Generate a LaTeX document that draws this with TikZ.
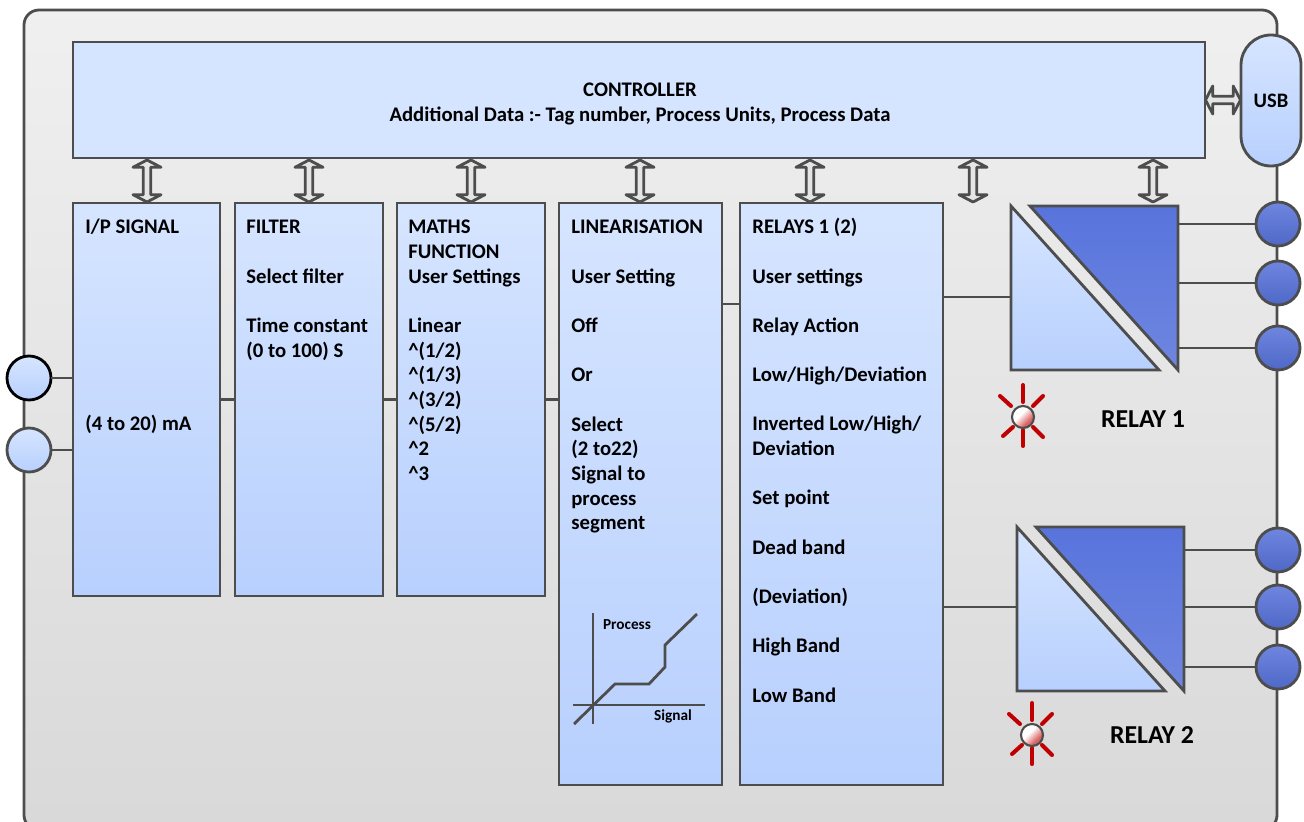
\documentclass[tikz,border=0pt]{standalone}
\usepackage{fontspec}
\setmainfont{Carlito}
\usepackage{xcolor}
\usetikzlibrary{shapes.arrows}
\newcommand{\px}{0.02cm}
\newcommand{\gapline}{\\[14.03pt]}
\newcommand{\pw}{\textasciicircum}
\definecolor{edgegray}{HTML}{4D4D4D}
\definecolor{boxtop}{HTML}{D6E5FF}
\definecolor{boxbot}{HTML}{B8D0FE}
\definecolor{darktop}{HTML}{5874DC}
\definecolor{darkbot}{HTML}{6F86E0}
\definecolor{ledred}{HTML}{C00000}
\pgfdeclarehorizontalshading{ledshade}{100bp}{color(0bp)=(white);color(42bp)=(white);color(66bp)=(ledred!62);color(100bp)=(ledred!62)}
\tikzset{
  wire/.style={draw=edgegray,line width=1.6pt},
  blockbox/.style={wire,top color=boxtop,bottom color=boxbot,inner sep=0pt,outer sep=0pt},
  blocktext/.style={anchor=north west,inner sep=0pt,align=left,font=\fontsize{11.8}{14.03}\selectfont\bfseries,execute at begin node=\strut},
  smalltext/.style={inner sep=0pt,font=\fontsize{8.7}{10}\selectfont\bfseries},
  relaytext/.style={inner sep=0pt,font=\fontsize{14.7}{16}\selectfont\bfseries},
  terminal/.style={circle,wire,minimum size=44*\px,inner sep=0pt,outer sep=0pt},
  updown/.style={double arrow,wire,fill=black!10,rotate=90,minimum height=42*\px,minimum width=28*\px,line join=round,
    inner sep=2*\px,double arrow head extend=9.5*\px,double arrow tip angle=125,outer sep=0pt},
}
\begin{document}
\begin{tikzpicture}[x=\px,y=-\px]
  \clip (0,0) rectangle (1304,821);
  \shade[wire,top color=black!6,bottom color=black!15,rounded corners=0.3cm] (24,10) rectangle (1277,830);

  % controller and usb
  \node[wire,fill=boxtop,minimum width=1132*\px,minimum height=116*\px,inner sep=0pt,outer sep=0pt] (controller) at (639,100) {};
  \node[blocktext,anchor=center,align=center] (controllertext) at (640,106) {CONTROLLER\\Additional Data :- Tag number, Process Units, Process Data};
  \node[blockbox,minimum width=60*\px,minimum height=131*\px,rounded corners=0.6cm,font=\fontsize{11.7}{13}\selectfont\bfseries] (usb) at (1271,100.5) {USB};
  \node[updown,rotate=-90,minimum height=35*\px] (usblink) at (1223,100) {};

  % blocks
  \node[blockbox,minimum width=147*\px,minimum height=393*\px] (ipsignal) at (146.5,399.5) {};
  \node[blockbox,minimum width=148*\px,minimum height=393*\px] (filter) at (309,399.5) {};
  \node[blockbox,minimum width=148*\px,minimum height=393*\px] (maths) at (471,399.5) {};
  \node[blockbox,minimum width=163*\px,minimum height=582*\px] (linear) at (640.5,494) {};
  \node[blockbox,minimum width=203*\px,minimum height=582*\px] (relays) at (841.5,494) {};
  \draw[wire] (ipsignal.east) -- (filter.west);
  \draw[wire] (filter.east) -- (maths.west);
  \draw[wire] (maths.east) -- (linear.west |- maths.east);
  \coordinate (linout) at (722,304);
  \draw[wire] (linout) -- (linout -| relays.west);

  \foreach \name/\x in {a/147,b/309,c/471,d/640,e/810,f/973,g/1153}
    \node[updown] (arrow\name) at (\x,181) {};

  \node[blocktext] (iptext) at (85,216) {I/P SIGNAL};
  \node[blocktext] (ipvalue) at (85,413) {(4 to 20) mA};
  \node[blocktext] (filtertext) at (246,220) {FILTER\gapline Select filter\gapline Time constant\\(0 to 100) S};
  \node[blocktext] (mathstext) at (408,220) {MATHS\\FUNCTION\\User Settings\gapline Linear\\\pw(1/2)\\\pw(1/3)\\\pw(3/2)\\\pw(5/2)\\\pw2\\\pw3};
  \node[blocktext] (lineartext) at (571,220) {LINEARISATION\gapline User Setting\gapline Off\gapline Or\gapline Select\\(2 to22)\\Signal to\\process\\segment};
  \node[blocktext] (relaystext) at (752,218) {RELAYS 1 (2)\gapline User settings\gapline Relay Action\gapline Low/High/Deviation\gapline Inverted Low/High/\\Deviation\gapline Set point\gapline Dead band\gapline (Deviation)\gapline High Band\gapline Low Band};

  % small graph
  \draw[wire] (593,613) -- (593,724);
  \draw[wire] (573,705) -- (705,705);
  \draw[wire] (574,724) -- (615,684) -- (649,684) -- (665,667) -- (665,645) -- (697,614);
  \node[smalltext] (process) at (627,625) {Process};
  \node[smalltext] (signal) at (673,716) {Signal};

  % inputs
  \node[terminal,draw=black,top color=boxtop,bottom color=boxbot] (inputa) at (29,378) {};
  \node[terminal,top color=boxtop,bottom color=boxbot] (inputb) at (29,450) {};
  \draw[wire] (inputa) -- (inputa -| ipsignal.west);
  \draw[wire] (inputb) -- (inputb -| ipsignal.west);

  % relays
  \foreach \n/\dx/\dy/\wy/\ya/\yb/\yc in {1/0/0/297/224/283/348,2/6/321/607/550/607/667}{
    \begin{scope}[shift={(\dx,\dy)}]
      \shade[wire,top color=boxtop,bottom color=boxbot,line join=miter] (1011,206) -- (1011,370) -- (1159,370) -- cycle;
      \shade[wire,top color=darktop,bottom color=darkbot,line join=miter] (1030,206) -- (1178,206) -- (1178,370) -- cycle;
      \coordinate (relayin\n) at (1011,\wy-\dy);
    \end{scope}
    \draw[wire] (relayin\n -| relays.east) -- (relayin\n);
    \foreach \t/\y in {a/\ya,b/\yb,c/\yc}{
      \node[terminal,top color=darkbot,bottom color=darktop!90!black] (term\n\t) at (1278,\y) {};
      \draw[wire] (1178+\dx,\y) -- (term\n\t);
    }
  }

  % leds
  \foreach \n/\cx/\cy in {1/1023/417,2/1032/735}{
    \begin{scope}[shift={(\cx,\cy)}]
      \foreach \xa/\ya/\xb/\yb in {0/-32/0/-15,0/13/0/29,10/-11/20/-21,-12/-11/-23/-21,-10/10/-20/19,10/10/20/20}
        \draw[ledred,line width=2.3pt,line cap=round] (\xa,\ya) -- (\xb,\yb);
      \shade[draw=edgegray,line width=1.2pt,shading=ledshade,shading angle=-45] (0,0) circle[radius=11];
    \end{scope}
  }
  \node[relaytext] (relayone) at (1143,419) {RELAY 1};
  \node[relaytext] (relaytwo) at (1152,735) {RELAY 2};
\end{tikzpicture}
\end{document}
